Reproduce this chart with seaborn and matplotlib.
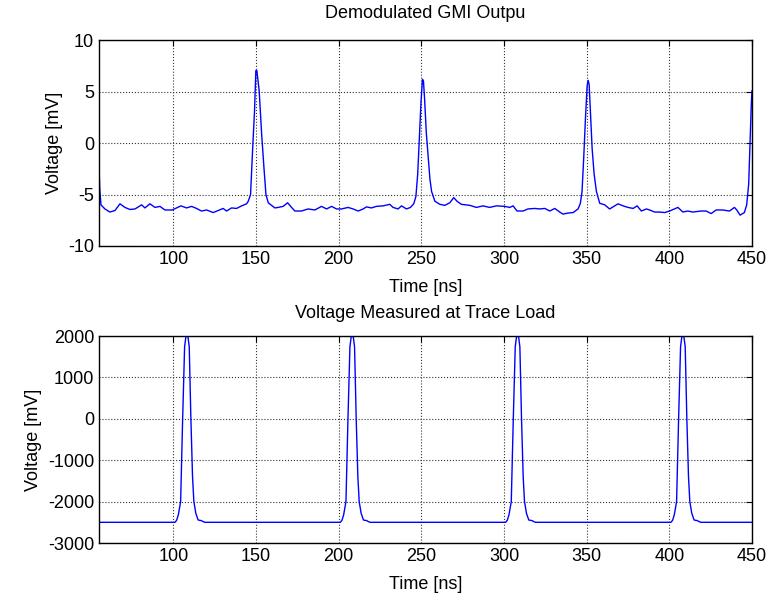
import numpy as np
import pandas as pd
import matplotlib
matplotlib.use("Agg")
import matplotlib.pyplot as plt
import seaborn as sns

# --- datos ---
# Salida GMI demodulada (ns, mV)
t_gmi = [55.0, 55.5, 56.2, 58.6, 61.6, 64.7, 67.7, 70.7, 73.7, 76.8, 80.8, 82.8, 85.8,
         88.9, 91.9, 94.9, 99.3, 104.6, 108.0, 111.0, 114.0, 117.0, 120.1, 124.1, 127.1,
         130.1, 132.2, 135.2, 138.2, 141.3, 144.3, 145.3, 146.7, 147.9, 149.1, 149.9,
         150.5, 151.1, 151.9, 153.4, 154.8, 156.0, 157.4, 159.4, 161.4, 163.4, 166.4,
         169.1, 171.5, 173.5, 177.5, 181.5, 185.6, 189.6, 192.7, 195.7, 198.7, 201.7,
         205.7, 208.7, 211.8, 214.8, 216.8, 219.8, 222.8, 226.9, 230.9, 232.9, 235.9,
         238.0, 241.0, 243.4, 245.4, 246.7, 247.8, 248.8, 249.8, 250.7, 251.3, 252.0,
         253.0, 254.2, 255.2, 256.2, 258.2, 261.2, 264.2, 267.2, 269.6, 271.6, 274.2,
         279.3, 283.3, 287.3, 291.3, 295.4, 300.5, 303.5, 305.5, 307.9, 311.5, 314.5,
         318.6, 321.6, 324.7, 327.7, 330.7, 333.7, 335.7, 338.7, 341.8, 344.8, 346.2,
         347.2, 348.2, 349.3, 350.3, 350.9, 351.5, 352.3, 353.3, 354.5, 355.9, 357.9,
         360.9, 363.9, 366.4, 369.0, 372.0, 375.0, 378.1, 380.5, 383.1, 386.1, 388.1,
         391.1, 394.2, 397.2, 400.2, 405.2, 408.2, 411.2, 414.2, 419.3, 422.3, 425.3,
         428.3, 432.3, 436.4, 439.4, 440.8, 442.8, 445.4, 446.8, 448.0, 448.8, 449.6,
         450.0]
v_gmi = [-2.2, -4.5, -6.0, -6.4, -6.7, -6.55, -5.9, -6.25, -6.45, -6.4, -6.0, -6.3, -5.9,
         -6.25, -6.15, -6.5, -6.5, -6.1, -6.3, -6.15, -6.35, -6.6, -6.5, -6.75, -6.55,
         -6.35, -6.6, -6.3, -6.35, -6.1, -5.9, -5.65, -5.0, -0.76, 3.15, 7.05,
         7.05, 6.25, 5.1, 0.87, -2.4, -5.0, -5.8, -6.05, -6.3, -6.25, -6.15,
         -5.8, -6.25, -6.6, -6.6, -6.4, -6.5, -6.15, -6.4, -6.15, -6.4, -6.4,
         -6.25, -6.4, -6.6, -6.4, -6.2, -6.3, -6.15, -6.1, -5.95, -6.25, -6.4,
         -6.1, -6.4, -6.25, -5.9, -5.2, -3.0, 0.5, 4.0, 6.2, 6.0, 4.2,
         1.0, -1.5, -3.5, -4.7, -5.65, -5.95, -6.05, -5.8, -5.3, -5.65, -5.95,
         -6.05, -6.25, -6.1, -6.25, -6.1, -6.15, -6.25, -6.1, -6.6, -6.6, -6.4,
         -6.35, -6.4, -6.35, -6.6, -6.35, -6.7, -6.9, -6.8, -6.75, -6.4, -5.85,
         -4.7, -1.5, 2.5, 5.6, 6.1, 5.7, 3.0, -0.5, -3.0, -4.7, -5.85,
         -6.0, -6.4, -6.15, -5.9, -6.1, -6.25, -6.35, -6.1, -6.6, -6.4, -6.5,
         -6.7, -6.7, -6.75, -6.6, -6.25, -6.7, -6.6, -6.7, -6.6, -6.6, -6.85,
         -6.5, -6.5, -6.6, -6.25, -6.5, -7.0, -6.75, -6.0, -4.0, 0.0, 3.8,
         5.1]

# Tension en la carga: forma de un pulso (ns desde el inicio, mV) y sus inicios
pulso_dt = [0.0, 1.0, 2.0, 3.4, 4.6, 5.8, 6.6, 7.8, 8.6, 9.6, 10.6, 11.4, 12.6, 14.0,
            16.0, 16.6, 18.0]
pulso_mv = [-2500, -2450, -2320, -2000, -25, 1740, 1990, 1990, 1740, 0, -1400, -2000,
            -2285, -2445, -2460, -2475, -2500]
inicios = [101, 201, 301, 401]
base_mv = -2500
t_ini, t_fin = 55, 450

xticks = [100, 150, 200, 250, 300, 350, 400, 450]

# armar la serie de la carga
t_carga = [t_ini]
v_carga = [base_mv]
for t0 in inicios:
    t_carga += [t0 + d for d in pulso_dt]
    v_carga += pulso_mv
t_carga.append(t_fin)
v_carga.append(base_mv)

df_gmi = pd.DataFrame({"t": t_gmi, "v": v_gmi})
df_carga = pd.DataFrame({"t": t_carga, "v": v_carga})

sns.set_style("white")
plt.rcParams["font.family"] = ["Liberation Sans", "DejaVu Sans"]
plt.rcParams["axes.unicode_minus"] = False
plt.rcParams["xtick.direction"] = "in"
plt.rcParams["ytick.direction"] = "in"
plt.rcParams["text.color"] = "black"
plt.rcParams["axes.labelcolor"] = "black"

fig = plt.figure(figsize=(7.75, 6), dpi=100)
ax1 = fig.add_axes([0.1277, 0.590, 0.8426, 0.343])
ax2 = fig.add_axes([0.1277, 0.095, 0.8426, 0.345])

sns.lineplot(data=df_gmi, x="t", y="v", ax=ax1, color="#0000ff", linewidth=1, sort=False)
sns.lineplot(data=df_carga, x="t", y="v", ax=ax2, color="#0000ff", linewidth=1, sort=False)

ax1.set_ylim(-10, 10)
ax1.set_yticks([-10, -5, 0, 5, 10])
ax2.set_ylim(-3000, 2000)
ax2.set_yticks([-3000, -2000, -1000, 0, 1000, 2000])

titulos = ["Demodulated GMI Outpu", "Voltage Measured at Trace Load"]
pads = [16, 13]
for ax, tit, pad in zip([ax1, ax2], titulos, pads):
    ax.set_xlim(t_ini, t_fin)
    ax.set_xticks(xticks)
    ax.grid(True, linestyle=":", color="0.2", linewidth=0.8)
    ax.tick_params(labelsize=13, length=4, width=0.8, colors="black",
                   top=True, right=True)
    for s in ax.spines.values():
        s.set_color("black")
        s.set_linewidth(1)
    ax.set_title(tit, fontsize=13, pad=pad, color="black")
    ax.set_xlabel("Time [ns]", fontsize=13, labelpad=8)
    ax.set_ylabel("Voltage [mV]", fontsize=13)

fig.savefig("out.png", dpi=100)
